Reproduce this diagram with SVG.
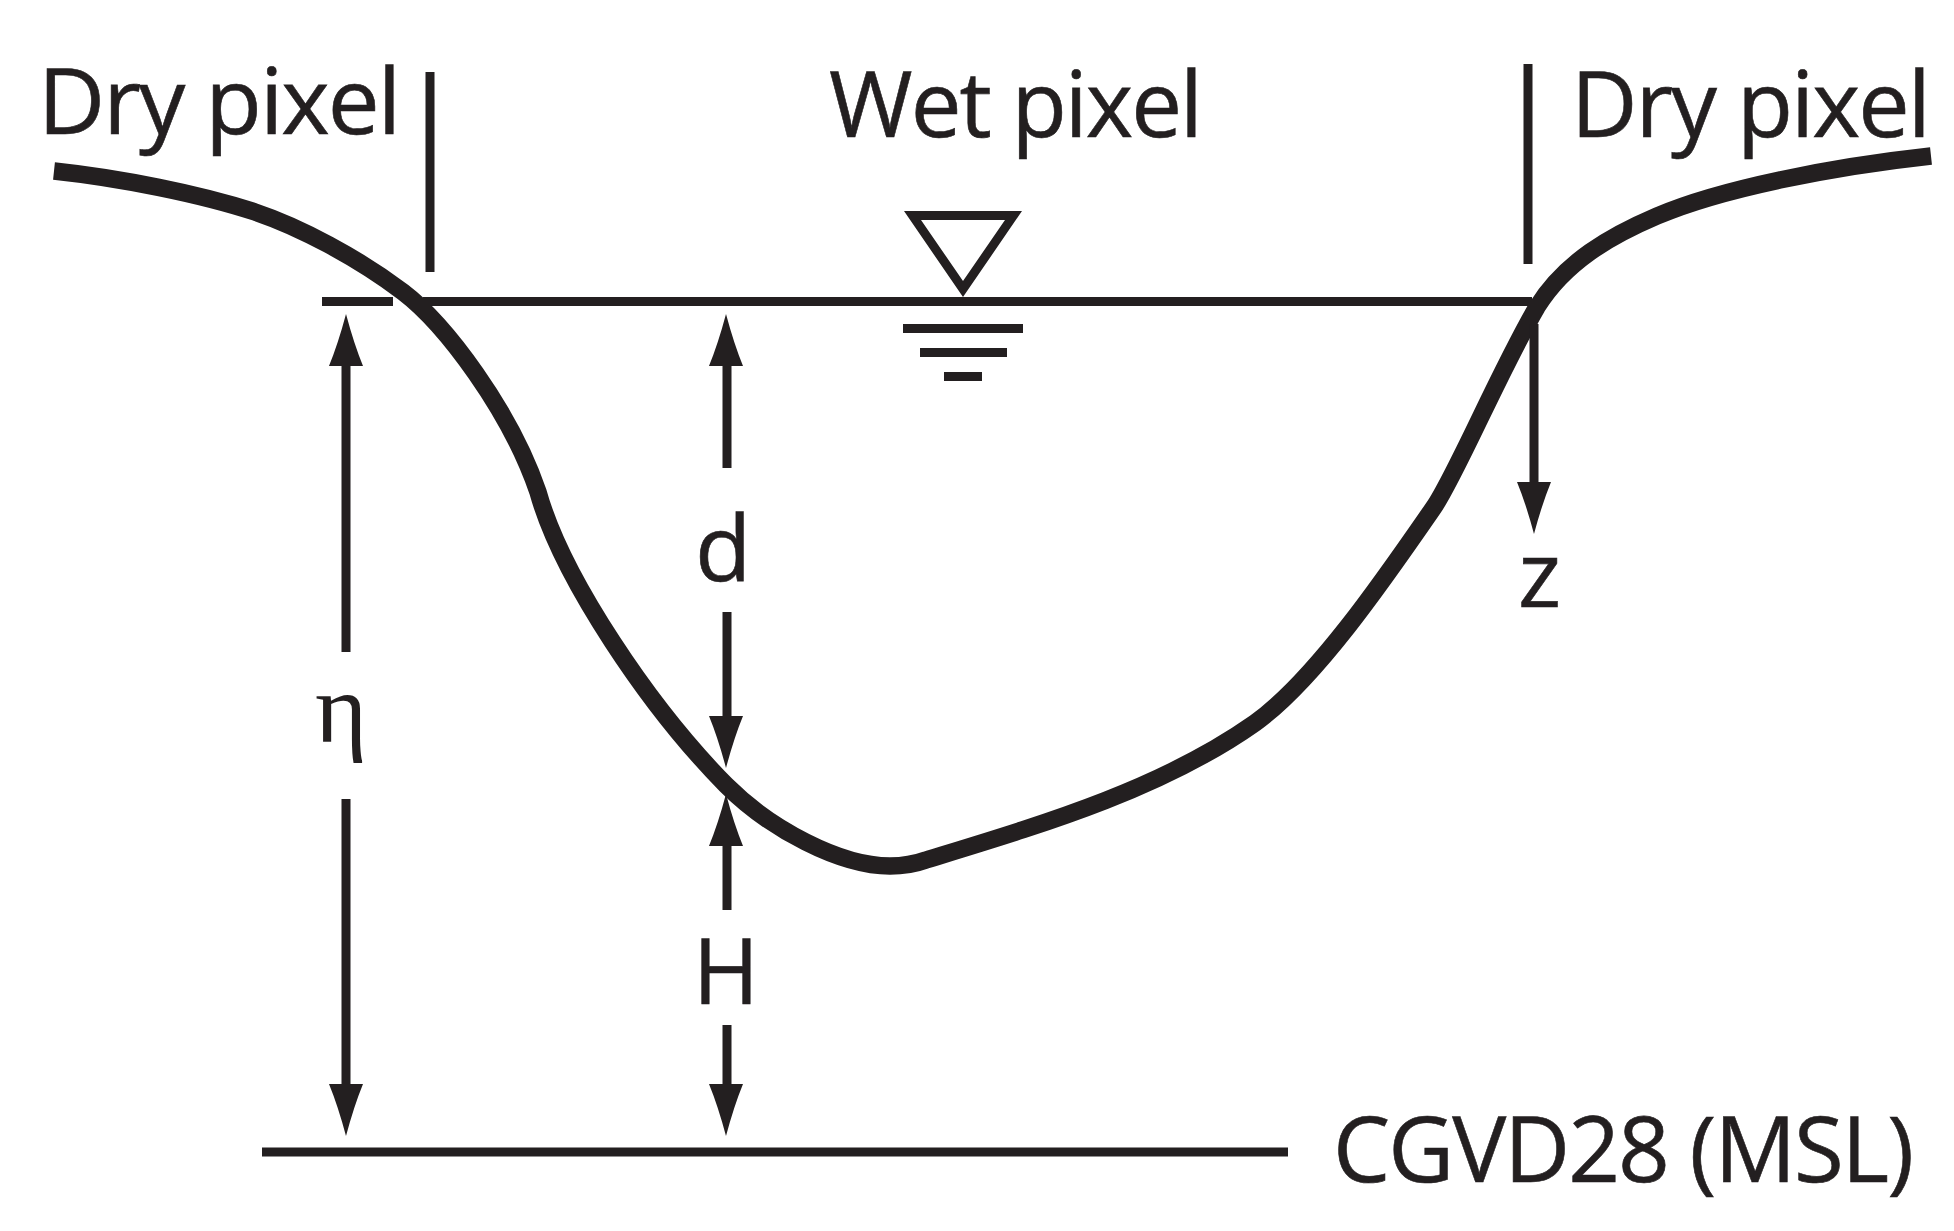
<svg xmlns="http://www.w3.org/2000/svg" width="1954" height="1231" viewBox="0 0 1954 1231">
<style>
.t{font-family:"Open Sans","Noto Sans","Liberation Sans",sans-serif;fill:#231f20;font-size:92px;stroke:#231f20;stroke-width:.6px}
.s{letter-spacing:-2px}
.l{stroke:#231f20;stroke-width:9;fill:none}
.g{font-family:"Liberation Serif",serif;fill:#231f20;font-size:100px}
.c{stroke:#231f20;stroke-width:17.500;fill:none}
</style>
<defs>
<path id="up" d="M0 0Q8 30 17 52H-17Q-8 30 0 0Z" fill="#231f20"/>
<path id="dn" d="M0 0Q-8-30-17-52H17Q8-30 0 0Z" fill="#231f20"/>
</defs>
<rect width="1954" height="1231" fill="#fff"/>
<g id="labels">
<text class="t s" x="38" y="134" textLength="361" lengthAdjust="spacingAndGlyphs">Dry pixel</text>
<text class="t s" x="829" y="137" textLength="372" lengthAdjust="spacingAndGlyphs">Wet pixel</text>
<text class="t s" x="1571" y="137" textLength="358" lengthAdjust="spacingAndGlyphs">Dry pixel</text>
<text class="t" x="695" y="581">d</text>
<text class="t" x="693" y="1004" textLength="66" lengthAdjust="spacingAndGlyphs">H</text>
<text class="t" x="1518" y="607">z</text>
<text class="g" x="315" y="742">η</text>
<text class="t s" x="1333" y="1182" textLength="579" lengthAdjust="spacingAndGlyphs">CGVD28 (MSL)</text>
</g>
<g id="terrain">
<path class="c" d="M54 171C120 178 200 194 255 212C300 227 358 258 403 292C445 324 510 410 538 492C562 578 650 708 726 785C770 829 840 866 890 866C905 866 915 864 926 860C1040 825 1160 790 1255 723C1315 680 1385 578 1434 507C1455 477 1500 370 1537 307C1565 262 1610 236 1657 216C1720 189 1830 167 1931 156"/>
</g>
<g id="connectors">
<path class="l" d="M322 301.500H393M423 301.500H1532M262 1152H1288M430 72V272M1528 64V264"/>
<path class="l" d="M346 360V652M346 799V1090M727 360V468M727 612V722M727 838V910M727 1025V1090M1534 324V490"/>
<use href="#up" x="346" y="314"/><use href="#dn" x="346" y="1136"/>
<use href="#up" x="726" y="314"/><use href="#dn" x="726" y="768"/>
<use href="#up" x="726" y="794"/><use href="#dn" x="726" y="1136"/>
<use href="#dn" x="1534" y="534"/>
</g>
<g id="water-symbol">
<path fill="#231f20" fill-rule="evenodd" d="M904 211H1022L963 297ZM921 220L963 281L1005 220Z"/>
<path class="l" d="M903 328.500H1023M920 352.500H1007M944 376.500H982"/>
</g>
</svg>
